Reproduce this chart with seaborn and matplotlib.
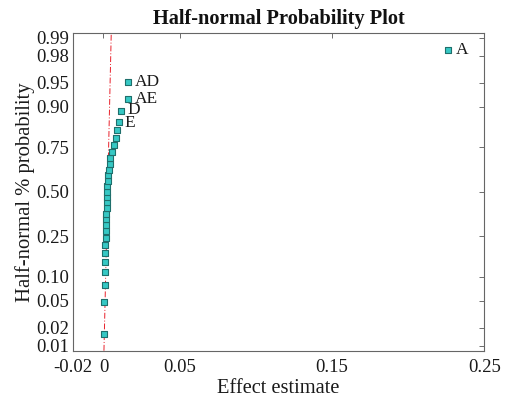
import numpy as np
import pandas as pd
import matplotlib
matplotlib.use("Agg")
import matplotlib.pyplot as plt
import seaborn as sns
from statistics import NormalDist

# ---- data ----
effects = [0.0003, 0.0006, 0.0008, 0.0010, 0.0011, 0.0012, 0.0013, 0.0014,
           0.0015, 0.0016, 0.0017, 0.0019, 0.0020, 0.0021, 0.0022, 0.0023,
           0.0026, 0.0030, 0.0032, 0.0036, 0.0041, 0.0045, 0.0054, 0.0067,
           0.0080, 0.0091, 0.0102, 0.0118, 0.0161, 0.0162, 0.2265]
probs = [0.0161, 0.0484, 0.0806, 0.1129, 0.1452, 0.1774, 0.2097, 0.2419,
         0.2742, 0.3065, 0.3387, 0.3710, 0.4032, 0.4355, 0.4677, 0.5000,
         0.5323, 0.5645, 0.5968, 0.6290, 0.6613, 0.6935, 0.7258, 0.7581,
         0.7903, 0.8226, 0.8548, 0.8871, 0.9194, 0.9516, 0.9839]
labels = [""] * 26 + ["E", "D", "AE", "AD", "A"]
ytick_probs = [0.01, 0.02, 0.05, 0.10, 0.25, 0.50, 0.75, 0.90, 0.95, 0.98, 0.99]
ytick_labels = ["0.01", "0.02", "0.05", "0.10", "0.25", "0.50", "0.75",
                "0.90", "0.95", "0.98", "0.99"]
xtick_vals = [-0.02, 0, 0.05, 0.15, 0.25]
xtick_labels = ["-0.02", "0", "0.05", "0.15", "0.25"]
ref_x = [0.0003, 0.0051]
ref_p = [0.0082, 0.9918]

_nd = NormalDist()
_ppf = np.vectorize(lambda p: _nd.inv_cdf(min(max(float(p), 1e-12), 1 - 1e-12)), otypes=[float])
_cdf = np.vectorize(lambda z: _nd.cdf(float(z)), otypes=[float])

df = pd.DataFrame({"effect": effects, "prob": probs, "label": labels})

sns.set_style("white")
plt.rcParams["font.family"] = ["Liberation Serif", "DejaVu Serif"]

fig = plt.figure(figsize=(5.05, 4.01), dpi=100)
ax = fig.add_axes([0.1446, 0.1254, 0.959 - 0.1446, 0.9185 - 0.1254])
ax.set_yscale("function", functions=(_ppf, _cdf))

ax.plot(ref_x, ref_p, color="#e8202a", lw=0.7, ls=(0, (6, 2, 1, 2)), zorder=1)
sns.scatterplot(data=df, x="effect", y="prob", ax=ax, marker="s", s=22,
                color="#36c8c4", edgecolor="#1f6f6c", linewidth=0.8, zorder=3,
                legend=False)

offsets = {"E": (4, -1), "D": (4, 1), "AE": (5, 0), "AD": (5, 0), "A": (5, 0)}
for _, r in df.iterrows():
    if r["label"]:
        ax.annotate(r["label"], (r["effect"], r["prob"]),
                    xytext=offsets[r["label"]],
                    textcoords="offset points", va="center", ha="left",
                    fontsize=12.5, color="#1a1a1a")

ax.set_xlim(-0.02, 0.25)
ax.set_ylim(0.0082, 0.9918)
ax.set_xticks(xtick_vals)
ax.set_xticklabels(xtick_labels)
ax.set_yticks(ytick_probs)
ax.set_yticklabels(ytick_labels)
ax.yaxis.set_minor_locator(matplotlib.ticker.NullLocator())
ax.tick_params(direction="in", length=3.5, width=0.6, color="#555555",
               labelsize=13.5, labelcolor="#1a1a1a", top=True, right=True, pad=3)
ax.tick_params(axis="x", pad=6)
for sp in ax.spines.values():
    sp.set_visible(True)
    sp.set_color("#666666")
    sp.set_linewidth(0.8)

ax.set_xlabel("Effect estimate", fontsize=14.7, color="#1a1a1a", labelpad=2)
ax.set_ylabel("Half-normal % probability", fontsize=14.9, color="#1a1a1a", labelpad=1)
ax.set_title("Half-normal Probability Plot", fontsize=14.7, fontweight="bold",
             color="#111111", pad=6)

fig.savefig("out.png", dpi=100)
